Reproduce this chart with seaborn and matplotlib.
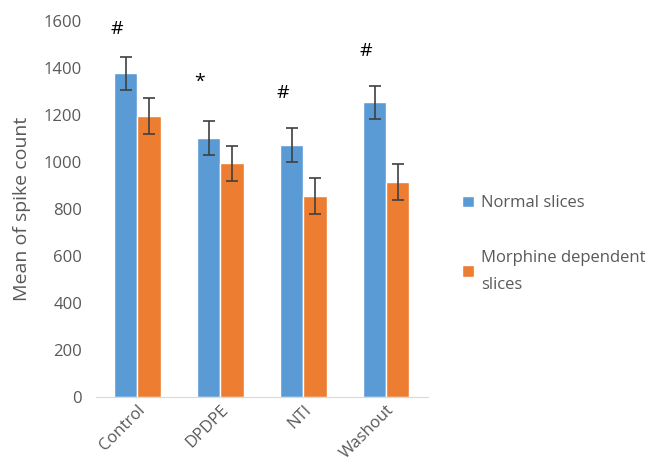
import matplotlib
matplotlib.use("Agg")
import matplotlib.pyplot as plt
import seaborn as sns
import pandas as pd

conditions = ["Control", "DPDPE", "NTI", "Washout"]
normal = [1378, 1104, 1072, 1255]
normal_err = [70, 72, 72, 70]
morphine = [1196, 995, 856, 914]
morphine_err = [77, 75, 75, 77]
marks = ["#", "*", "#", "#"]
mark_y = [1565, 1340, 1295, 1475]

groups = ["Normal slices", "Morphine dependent\nslices"]
colors = ["#5B9BD5", "#ED7D31"]

df = pd.DataFrame({
    "condition": conditions * 2,
    "group": [groups[0]] * 4 + [groups[1]] * 4,
    "value": normal + morphine,
    "err": normal_err + morphine_err,
})

sns.set_style("white")
plt.rcParams["font.family"] = ["Open Sans", "DejaVu Sans"]

fig = plt.figure(figsize=(6.53, 4.71), dpi=100)
ax = fig.add_axes([0.147, 0.157, 0.508, 0.798])

sns.barplot(data=df, x="condition", y="value", hue="group", palette=colors,
            width=0.56, errorbar=None, saturation=1, ax=ax, legend=True)

# error bars on top of each bar
for cont, g in zip(ax.containers, groups):
    sub = df[df["group"] == g]
    xs = [p.get_x() + p.get_width() / 2 for p in cont.patches]
    ax.errorbar(xs, sub["value"], yerr=sub["err"], fmt="none",
                ecolor="#404040", elinewidth=1.2, capsize=4, capthick=1.2)

for i, (m, y) in enumerate(zip(marks, mark_y)):
    ax.text(i - 0.25, y, m, ha="center", va="center", fontsize=14, color="black")

ax.set_ylim(0, 1600)
ax.set_xlim(-0.5, 3.5)
ax.set_yticks(range(0, 1601, 200))
ax.set_xlabel("")
ax.set_ylabel("Mean of spike count", fontsize=14, color="#595959", labelpad=9)
ax.tick_params(axis="both", length=0, labelsize=12, colors="#595959")
ax.tick_params(axis="y", pad=10)
plt.setp(ax.get_xticklabels(), rotation=45, ha="right", rotation_mode="anchor")

for s in ["top", "right", "left"]:
    ax.spines[s].set_visible(False)
ax.spines["bottom"].set_color("#D9D9D9")

handles, labels = ax.get_legend_handles_labels()
ax.get_legend().remove()
leg = fig.legend(handles, labels, loc="upper left", bbox_to_anchor=(0.685, 0.617),
                 frameon=False, fontsize=12, labelcolor="#595959",
                 handlelength=0.7, handleheight=0.7, handletextpad=0.4,
                 labelspacing=2.3)
for t in leg.get_texts():
    t.set_linespacing(1.9)

fig.savefig("out.png", dpi=100)
